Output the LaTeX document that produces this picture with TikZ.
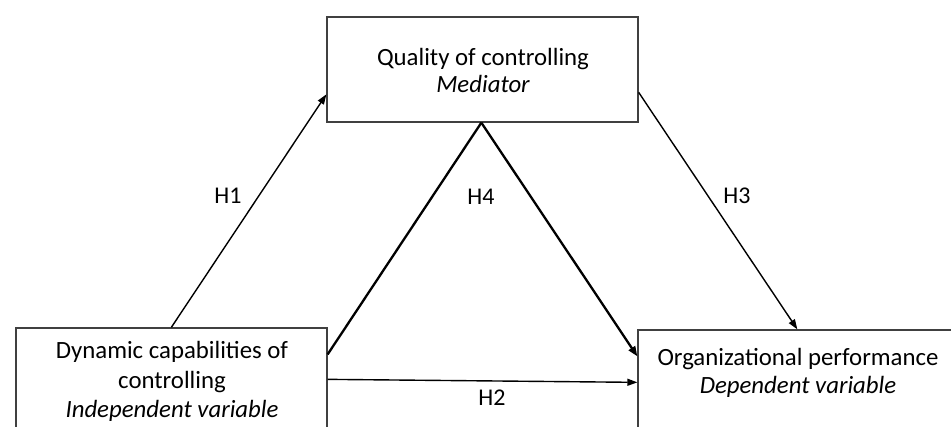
\documentclass[tikz,border=0pt]{standalone}
\usepackage{fontspec}
\setmainfont{Carlito}
\usetikzlibrary{arrows.meta,calc}
\begin{document}
\begin{tikzpicture}[x=1pt,y=-1pt,
  box/.style={draw=black!75,line width=1.3pt,rectangle,inner sep=0pt},
  txt/.style={anchor=base,inner sep=0pt,font=\fontsize{24.8}{28}\selectfont},
  lbl/.style={inner sep=0pt,font=\fontsize{24}{28}\selectfont},
  arr/.style={line width=1.4pt,-{Triangle[length=10pt,width=7pt]}},
  thick line/.style={line width=2.3pt},
  thick arr/.style={line width=2.3pt,-{Triangle[length=10pt,width=7.5pt]}}]
\useasboundingbox (0,0) rectangle (951,426);
\clip (0,0) rectangle (951,426);
\fill[white] (0,0) rectangle (951,426);
% boxes
\node[box,minimum width=311pt,minimum height=105pt] (qual) at (482.5,69.5) {};
\node[box,minimum width=311pt,minimum height=120pt] (dyn) at (171.5,388) {};
\node[box,minimum width=330pt,minimum height=120pt] (perf) at (803,390) {};
% texts
\node[txt] (q1) at (483,65) {Quality of controlling};
\node[txt] (q2) at (483,92) {\itshape Mediator};
\node[txt] (d1) at (172,358) {Dynamic capabilities of};
\node[txt] (d2) at (172,388) {controlling};
\node[txt] (d3) at (172,417) {\itshape Independent variable};
\node[txt] (p1) at (798,365) {Organizational performance};
\node[txt] (p2) at (798,393) {\itshape Dependent variable};
% connection points
\coordinate (h1s) at ($(dyn.north west)+(156,0)$);
\coordinate (h1e) at ($(qual.north west)+(0,78)$);
\coordinate (h4s) at ($(dyn.north east)+(0,27)$);
\coordinate (h4m) at ($(qual.south west)+(155,0)$);
\coordinate (h4e) at ($(perf.north west)+(0,27)$);
\coordinate (h2s) at ($(dyn.north east)+(0,52)$);
\coordinate (h2e) at ($(perf.north west)+(0,53)$);
\coordinate (h3s) at ($(qual.north east)+(0,76)$);
\coordinate (h3e) at ($(perf.north west)+(160,0)$);
% connectors
\draw[arr] (h1s) -- (h1e);
\draw[thick line] (h4s) -- (h4m);
\draw[thick arr] (h4m) -- (h4e);
\draw[arr] (h2s) -- (h2e);
\draw[arr] (h3s) -- (h3e);
% labels
\node[lbl] (l1) at (228,196) {H1};
\node[lbl] (l4) at (481,197) {H4};
\node[lbl] (l3) at (737,196) {H3};
\node[lbl] (l2) at (492,398) {H2};
\end{tikzpicture}
\end{document}
